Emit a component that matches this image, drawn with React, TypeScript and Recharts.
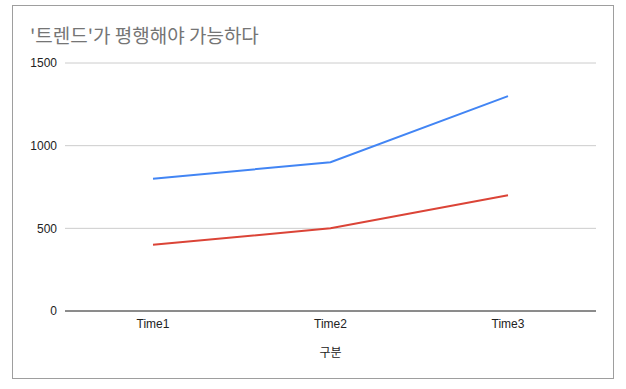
import { LineChart, Line, XAxis, YAxis, CartesianGrid } from 'recharts';

const categories = ['Time1', 'Time2', 'Time3'];
const blueValues = [800, 900, 1300];
const redValues = [400, 500, 700];
const yTicks = [0, 500, 1000, 1500];

const data = categories.map((name, i) => ({ name, blue: blueValues[i], red: redValues[i] }));

const FONT = '"Liberation Sans", Arial, "Noto Sans CJK KR", sans-serif';

export default function App() {
  return (
    <div style={{ position: 'absolute', left: 0, top: 0, width: 626, height: 389, background: '#fff', fontFamily: FONT }}>
      {/* outer frame */}
      <div
        style={{
          position: 'absolute',
          left: 12,
          top: 5,
          width: 600,
          height: 372,
          border: '1px solid #9e9e9e',
        }}
      />
      <div
        style={{
          position: 'absolute',
          left: 30,
          top: 23,
          fontSize: 19,
          color: '#757575',
          fontFamily: '"Noto Sans CJK KR", sans-serif',
          lineHeight: '24px',
          whiteSpace: 'nowrap',
        }}
      >
        '트렌드'가 평행해야 가능하다
      </div>
      <div style={{ position: 'absolute', left: 0, top: 0 }}>
        <LineChart width={626} height={389} data={data} margin={{ top: 63, right: 30, bottom: 48, left: 0 }}>
          <CartesianGrid vertical={false} stroke="#cccccc" />
          <XAxis
            dataKey="name"
            height={30}
            padding={{ left: 88, right: 88 }}
            axisLine={{ stroke: '#333333', strokeWidth: 1 }}
            tickLine={false}
            tick={{ fill: '#222222', fontSize: 12, fontFamily: FONT }}
            label={{
              value: '구분',
              position: 'bottom',
              offset: 7,
              style: { fill: '#222222', fontSize: 12, fontFamily: '"Noto Sans CJK KR", sans-serif' },
            }}
          />
          <YAxis
            width={65}
            domain={[0, 1500]}
            ticks={yTicks}
            axisLine={false}
            tickLine={false}
            tick={{ fill: '#222222', fontSize: 12, fontFamily: FONT }}
          />
          <Line dataKey="blue" stroke="#4285f4" strokeWidth={2} dot={false} isAnimationActive={false} />
          <Line dataKey="red" stroke="#db4437" strokeWidth={2} dot={false} isAnimationActive={false} />
        </LineChart>
      </div>
    </div>
  );
}
